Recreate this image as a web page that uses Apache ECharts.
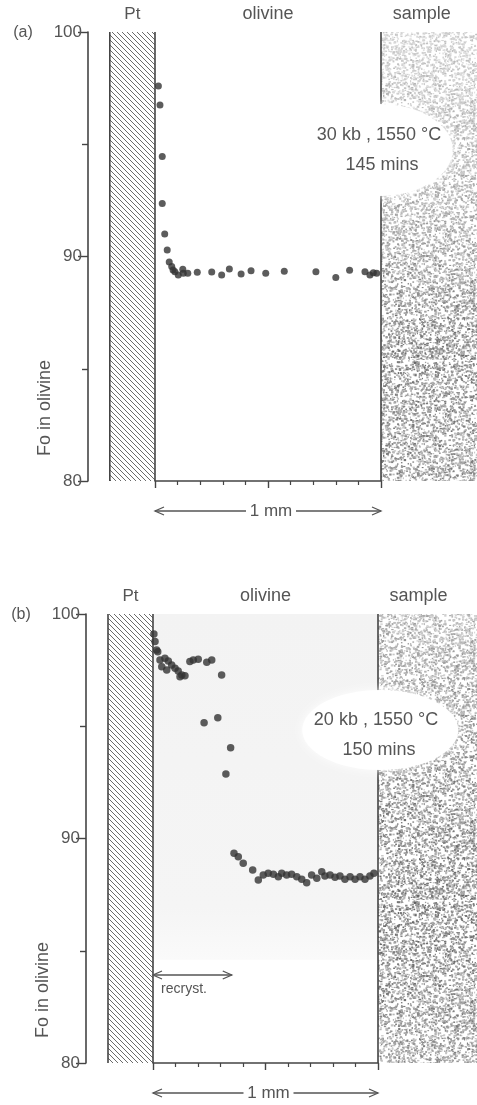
<!DOCTYPE html>
<html>
<head>
<meta charset="utf-8">
<title>Fo profiles in olivine</title>
<script src="https://cdn.jsdelivr.net/npm/echarts@6/dist/echarts.min.js"></script>
<style>
  html, body { margin: 0; padding: 0; background: #fff; }
  #chart { width: 477px; height: 1105px; }
</style>
</head>
<body>
<div id="chart"></div>
<script>
// Distance from the Pt contact (mm) and Fo content of olivine, run (a): 30 kb, 1550 °C, 145 mins
const distA = [0.015, 0.022, 0.032, 0.032, 0.043, 0.054, 0.063, 0.074, 0.080, 0.088, 0.103, 0.123, 0.125,
  0.145, 0.187, 0.251, 0.295, 0.329, 0.381, 0.425, 0.490, 0.572, 0.712, 0.800, 0.861, 0.929, 0.951, 0.966, 0.981];
const foA = [97.60, 96.75, 94.45, 92.36, 91.00, 90.29, 89.76, 89.55, 89.40, 89.32, 89.18, 89.43, 89.25,
  89.25, 89.30, 89.31, 89.18, 89.44, 89.22, 89.37, 89.25, 89.34, 89.32, 89.06, 89.39, 89.32, 89.18, 89.28, 89.25];

// Run (b): 20 kb, 1550 °C, 150 mins
const distB = [0.004, 0.009, 0.016, 0.021, 0.031, 0.039, 0.053, 0.061, 0.068, 0.083, 0.098, 0.112, 0.120, 0.128,
  0.142, 0.164, 0.179, 0.201, 0.239, 0.261, 0.305, 0.227, 0.288, 0.345, 0.324,
  0.360, 0.379, 0.401, 0.443, 0.468, 0.490, 0.512, 0.535, 0.557, 0.572, 0.594, 0.616, 0.639, 0.661, 0.683,
  0.705, 0.728, 0.750, 0.764, 0.787, 0.809, 0.831, 0.853, 0.876, 0.898, 0.920, 0.942, 0.964, 0.982];
const foB = [99.11, 98.77, 98.40, 98.32, 97.95, 97.65, 98.03, 97.51, 97.91, 97.73, 97.58, 97.46, 97.21, 97.28,
  97.25, 97.88, 97.95, 97.98, 97.85, 97.95, 97.28, 95.16, 95.38, 94.04, 92.87,
  89.34, 89.19, 88.90, 88.60, 88.15, 88.37, 88.45, 88.41, 88.30, 88.45, 88.37, 88.41, 88.30, 88.18, 88.03,
  88.37, 88.23, 88.52, 88.33, 88.37, 88.27, 88.33, 88.18, 88.30, 88.18, 88.30, 88.18, 88.33, 88.45];

const yTicks = [80, 90, 100];
const panelTags = ['(a)', '(b)'];
const runLabels = [['30 kb , 1550 °C', '145 mins'], ['20 kb , 1550 °C', '150 mins']];
const zoneLabels = ['Pt', 'olivine', 'sample'];

const FONT = '"Liberation Sans", Arial, sans-serif';
const NARROW = '"Liberation Sans Narrow", "Liberation Sans", sans-serif';
const INK = '#444';
const TEXT = '#555';

// Diagonal hatching used for the platinum capsule wall
function hatchTile() {
  const s = 5, c = document.createElement('canvas');
  c.width = s; c.height = s;
  const g = c.getContext('2d');
  g.strokeStyle = '#5a5a5a'; g.lineWidth = 0.9;
  for (let k = -1; k <= 1; k++) {
    g.beginPath(); g.moveTo(k * s, 0); g.lineTo(k * s + s, s); g.stroke();
  }
  return c;
}

// Speckled grain texture for the sample (deterministic LCG so every render is identical)
function grainTile() {
  const s = 180, c = document.createElement('canvas');
  c.width = s; c.height = s;
  const g = c.getContext('2d');
  g.fillStyle = '#fff'; g.fillRect(0, 0, s, s);
  let seed = 987654321;
  const next = () => (seed = (Math.imul(seed, 1664525) + 1013904223) >>> 0) / 4294967296;
  const n = Math.round(s * s * 0.2);
  for (let i = 0; i < n; i++) {
    const x = next() * s, y = next() * s;
    const v = Math.round(95 + next() * 100);
    g.fillStyle = 'rgb(' + v + ',' + v + ',' + v + ')';
    g.fillRect(x, y, 1 + next() * 1.6, 1 + next() * 1.2);
  }
  return c;
}

const hatch = { image: hatchTile(), repeat: 'repeat' };
const grain = { image: grainTile(), repeat: 'repeat' };

const chart = echarts.init(document.getElementById('chart'), null, { renderer: 'canvas' });

function xAxisFor(i) {
  return {
    gridIndex: i, type: 'value', min: 0, max: 1, interval: 0.5,
    axisLine: { show: true, lineStyle: { color: INK, width: 1.6 } },
    axisTick: { show: true, length: 7, lineStyle: { color: INK, width: 1.4 } },
    minorTick: { show: true, splitNumber: 5, length: 4, lineStyle: { color: INK, width: 1.2 } },
    axisLabel: { show: false },
    splitLine: { show: false }
  };
}
function yAxisFor(i) {
  return {
    gridIndex: i, type: 'value', min: 80, max: 100, interval: 10, offset: 67,
    axisLine: { show: true, onZero: false, lineStyle: { color: INK, width: 1.6 } },
    axisTick: { show: true, length: 10, lineStyle: { color: INK, width: 1.4 } },
    minorTick: { show: true, splitNumber: 2, length: 6, lineStyle: { color: INK, width: 1.4 } },
    axisLabel: {
      margin: 6, fontSize: 17, color: TEXT, fontFamily: NARROW,
      formatter: v => (yTicks.includes(v) ? String(v) : '')
    },
    splitLine: { show: false }
  };
}

const pts = (xs, ys) => xs.map((x, k) => [x, ys[k]]);

chart.setOption({
  animation: false,
  backgroundColor: '#fff',
  grid: [
    { left: 155, width: 226, top: 32, height: 449 },
    { left: 153, width: 225, top: 614, height: 449 }
  ],
  xAxis: [xAxisFor(0), xAxisFor(1)],
  yAxis: [yAxisFor(0), yAxisFor(1)],
  series: [
    { type: 'scatter', name: 'run a', xAxisIndex: 0, yAxisIndex: 0, data: pts(distA, foA),
      symbolSize: 7, itemStyle: { color: '#333' }, z: 5 },
    { type: 'scatter', name: 'run b', xAxisIndex: 1, yAxisIndex: 1, data: pts(distB, foB),
      symbolSize: 7.5, itemStyle: { color: '#333' }, z: 5 }
  ]
});

// Decorations placed through each grid's own scales
function decorations(gi) {
  const P = (x, y) => chart.convertToPixel({ gridIndex: gi }, [x, y]);
  const els = [];
  const [ptL, top] = P(-0.2, 100);
  const [ol0, bottom] = P(0, 80);
  const [ol1] = P(1, 80);
  const axX = ol0 - 67;
  const right = 480;

  // faint tone over the recrystallised olivine of run (b)
  if (gi === 1) {
    const yb = P(0, 84.6)[1];
    els.push({ type: 'rect', z: -5, shape: { x: ol0, y: top, width: ol1 - ol0, height: yb - top },
      style: { fill: new echarts.graphic.LinearGradient(0, 0, 0, 1, [
        { offset: 0, color: '#f3f3f3' }, { offset: 0.85, color: '#f5f5f5' }, { offset: 1, color: '#fafafa' }
      ]) } });
  }
  // Pt wall
  els.push({ type: 'rect', z: -4, shape: { x: ptL, y: top, width: ol0 - ptL, height: bottom - top },
    style: { fill: hatch } });
  // sample
  els.push({ type: 'rect', z: -4, shape: { x: ol1, y: top, width: right - ol1, height: bottom - top },
    style: { fill: grain } });
  els.push({ type: 'rect', z: -3, shape: { x: ol1, y: top, width: right - ol1, height: bottom - top },
    style: { fill: new echarts.graphic.LinearGradient(0, 0, 0, 1, gi === 0 ? [
      { offset: 0, color: 'rgba(255,255,255,0.6)' },
      { offset: 0.4, color: 'rgba(255,255,255,0.35)' },
      { offset: 0.7, color: 'rgba(255,255,255,0.05)' },
      { offset: 1, color: 'rgba(255,255,255,0.15)' }
    ] : [
      { offset: 0, color: 'rgba(255,255,255,0.4)' },
      { offset: 0.3, color: 'rgba(255,255,255,0.15)' },
      { offset: 0.7, color: 'rgba(255,255,255,0.0)' },
      { offset: 1, color: 'rgba(255,255,255,0.2)' }
    ]) } });
  // boundaries
  [ptL, ol0, ol1].forEach(x => els.push({ type: 'line', z: -2,
    shape: { x1: x, y1: top, x2: x, y2: bottom }, style: { stroke: INK, lineWidth: 1.6 } }));

  // white label bubble over the olivine/sample contact
  const c = P(gi === 0 ? 0.99 : 1.01, gi === 0 ? 94.74 : 94.83);
  els.push({ type: 'ellipse', z: -1, shape: { cx: c[0], cy: c[1], rx: gi === 0 ? 74 : 78, ry: gi === 0 ? 46 : 40 },
    style: { fill: '#fff', shadowBlur: 10, shadowColor: 'rgba(255,255,255,0.9)' } });
  const l1 = P(1.0, gi === 0 ? 95.41 : 95.28), l2 = P(1.0, gi === 0 ? 94.08 : 93.94);
  els.push({ type: 'text', x: l1[0] - 2, y: l1[1], style: { text: runLabels[gi][0], font: '18px ' + FONT,
    fill: TEXT, align: 'center', verticalAlign: 'middle' } });
  els.push({ type: 'text', x: l2[0] + 1, y: l2[1], style: { text: runLabels[gi][1], font: '18px ' + FONT,
    fill: TEXT, align: 'center', verticalAlign: 'middle' } });

  // zone names along the top
  const tY = top - 18;
  els.push({ type: 'text', x: P(-0.1, 100)[0], y: tY, style: { text: zoneLabels[0], font: '17px ' + FONT,
    fill: TEXT, align: 'center', verticalAlign: 'middle' } });
  els.push({ type: 'text', x: P(0.5, 100)[0], y: tY, style: { text: zoneLabels[1], font: '18px ' + FONT,
    fill: TEXT, align: 'center', verticalAlign: 'middle' } });
  els.push({ type: 'text', x: P(1.18, 100)[0], y: tY, style: { text: zoneLabels[2], font: '18px ' + FONT,
    fill: TEXT, align: 'center', verticalAlign: 'middle' } });

  // panel tag
  els.push({ type: 'text', x: axX - 65, y: top + 1, style: { text: panelTags[gi], font: '16px ' + FONT,
    fill: TEXT, align: 'center', verticalAlign: 'middle' } });

  // axis title
  const ty = P(0, 83.25)[1];
  els.push({ type: 'text', x: axX - 43, y: ty, rotation: Math.PI / 2,
    style: { text: 'Fo in olivine', font: '18px ' + FONT, fill: TEXT, align: 'center', verticalAlign: 'middle' } });

  // 1 mm scale bar
  const sy = bottom + 30;
  const mid = P(0.5, 80)[0];
  const arrow = (x, dir, y) => ({ type: 'polyline', shape: { points: [[x + dir * 9, y - 4], [x, y], [x + dir * 9, y + 4]] },
    style: { stroke: TEXT, lineWidth: 1.3, fill: null } });
  els.push({ type: 'line', shape: { x1: ol0, y1: sy, x2: mid - 22, y2: sy }, style: { stroke: TEXT, lineWidth: 1.3 } });
  els.push({ type: 'line', shape: { x1: mid + 28, y1: sy, x2: ol1, y2: sy }, style: { stroke: TEXT, lineWidth: 1.3 } });
  els.push(arrow(ol0, 1, sy), arrow(ol1, -1, sy));
  els.push({ type: 'text', x: mid + 3, y: sy, style: { text: '1 mm', font: '17px ' + FONT, fill: TEXT,
    align: 'center', verticalAlign: 'middle' } });

  // recrystallised rim of run (b)
  if (gi === 1) {
    const a0 = P(0, 83.92), a1 = P(0.35, 83.92);
    els.push({ type: 'line', shape: { x1: a0[0], y1: a0[1], x2: a1[0], y2: a1[1] }, style: { stroke: TEXT, lineWidth: 1.3 } });
    els.push(arrow(a0[0], 1, a0[1]), arrow(a1[0], -1, a1[1]));
    const rt = P(0.036, 83.3);
    els.push({ type: 'text', x: rt[0], y: rt[1], style: { text: 'recryst.', font: '14px ' + FONT, fill: TEXT,
      align: 'left', verticalAlign: 'middle' } });
  }
  return els;
}

chart.setOption({ graphic: { elements: decorations(0).concat(decorations(1)) } });
</script>
</body>
</html>
